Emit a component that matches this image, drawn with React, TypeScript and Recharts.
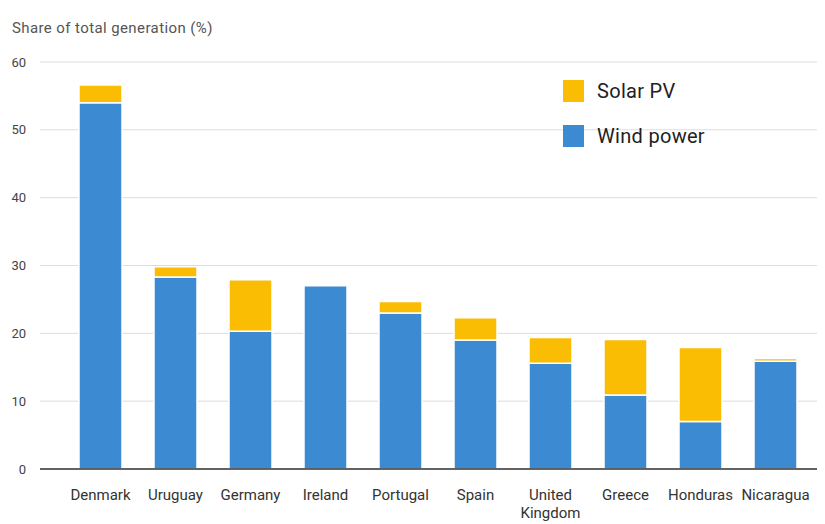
import React from "react";
import { BarChart, Bar, XAxis, YAxis, CartesianGrid } from "recharts";

const countries = ["Denmark", "Uruguay", "Germany", "Ireland", "Portugal", "Spain", "United Kingdom", "Greece", "Honduras", "Nicaragua"];
const windPower = [54.0, 28.3, 20.3, 27.0, 23.0, 19.0, 15.6, 10.9, 7.0, 15.9];
const solarPV = [2.6, 1.5, 7.6, 0, 1.7, 3.3, 3.8, 8.2, 10.9, 0.4];
const yTicks = [0, 10, 20, 30, 40, 50, 60];

const BLUE = "#3b8ad2";
const YELLOW = "#fbbc04";
const FONT = "Roboto, 'Noto Sans', sans-serif";

const data = countries.map((c, i) => ({ country: c, wind: windPower[i], solar: solarPV[i] }));

const legendItems = [
    { name: "Solar PV", color: YELLOW },
    { name: "Wind power", color: BLUE },
];

// long names wrap onto two lines, like "United Kingdom"
const CountryTick = (props: any) => {
    const { x, y, payload } = props;
    const label: string = payload.value;
    const lines = label.length > 10 && label.includes(" ") ? label.split(" ") : [label];
    return (
        <g>
            {lines.map((l, i) => (
                <text key={i} x={x} y={y + 23 + i * 18} textAnchor="middle" fill="#333" fontSize={15} fontFamily={FONT}>
                    {l}
                </text>
            ))}
        </g>
    );
};

export default function App() {
    return (
        <div style={{ position: "relative", width: 817, height: 516 }}>
            <div style={{ position: "absolute", left: 4, top: 11, fontSize: 15, letterSpacing: 0.4, color: "#555", fontFamily: FONT }}>
                Share of total generation (%)
            </div>
            <div style={{ position: "absolute", left: 555, top: 72, fontFamily: FONT, zIndex: 2 }}>
                {legendItems.map((it) => (
                    <div key={it.name} style={{ display: "flex", alignItems: "center", height: 22, marginBottom: 23 }}>
                        <div style={{ width: 21, height: 22, background: it.color, marginRight: 13 }} />
                        <span style={{ fontSize: 20, letterSpacing: 0.3, color: "#222" }}>{it.name}</span>
                    </div>
                ))}
            </div>
            <BarChart width={817} height={516} data={data} margin={{ top: 54, right: 0, left: 0, bottom: 5 }}>
                <CartesianGrid vertical={false} stroke="#dcdcdc" />
                <XAxis
                    dataKey="country"
                    height={50}
                    interval={0}
                    tickLine={false}
                    axisLine={{ stroke: "#333", strokeWidth: 1.5 }}
                    padding={{ left: 23, right: 12 }}
                    tick={<CountryTick />}
                />
                <YAxis
                    width={32}
                    domain={[0, 60]}
                    ticks={yTicks}
                    axisLine={false}
                    tickLine={false}
                    tickSize={0}
                    tickMargin={14}
                    tick={{ fill: "#444", fontSize: 13, fontFamily: FONT }}
                />
                <Bar dataKey="wind" name="Wind power" stackId="a" fill={BLUE} stroke="#fff" strokeWidth={1.5} barSize={43} isAnimationActive={false} />
                <Bar dataKey="solar" name="Solar PV" stackId="a" fill={YELLOW} stroke="#fff" strokeWidth={1.5} barSize={43} isAnimationActive={false} />
            </BarChart>
        </div>
    );
}
